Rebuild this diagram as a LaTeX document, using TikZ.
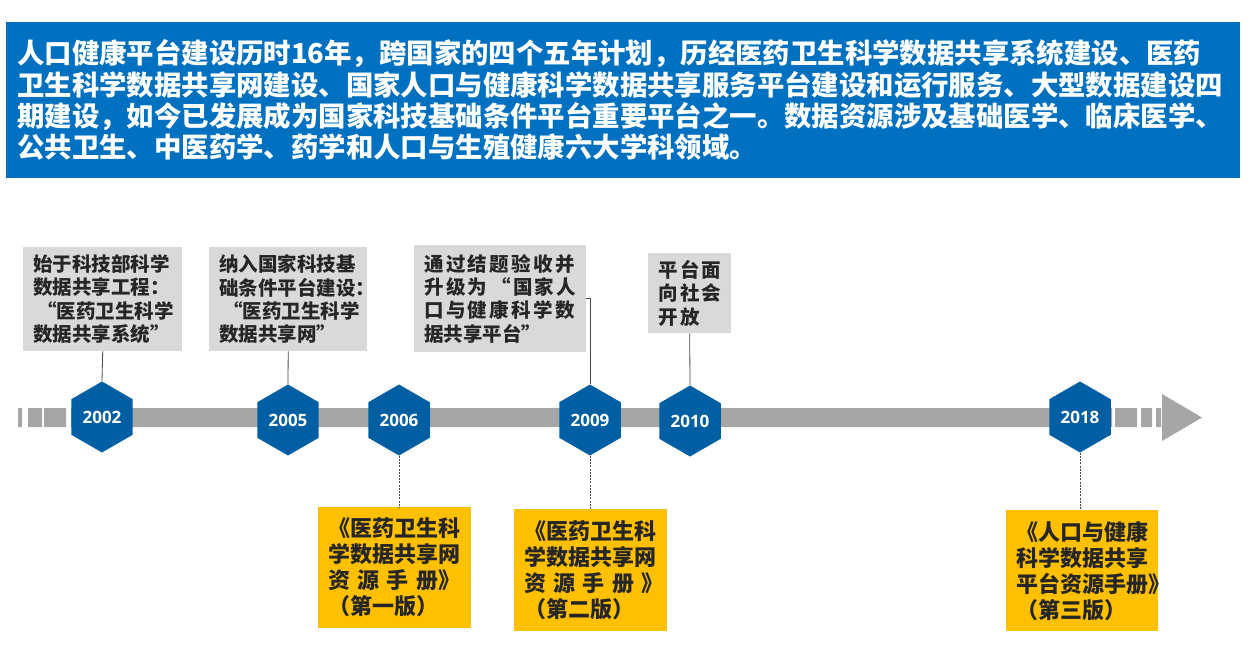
\documentclass[tikz,border=0pt]{standalone}
\usepackage{fontspec}
\setmainfont{Noto Sans CJK SC}
\newfontfamily\spaced{Noto Sans CJK SC}[LetterSpace=12]
\newfontfamily\digits{Open Sans}
\newcommand\openq{\hspace*{0.2em}“}
\usetikzlibrary{shapes.geometric}
\definecolor{headblue}{HTML}{0070C0}
\definecolor{hexblue}{HTML}{005EA2}
\definecolor{boxgray}{HTML}{D9D9D9}
\definecolor{bookyellow}{HTML}{FFC000}
\definecolor{bargray}{HTML}{A6A6A6}
\definecolor{ink}{HTML}{262626}

\begin{document}
\begin{tikzpicture}[x=1pt,y=-1pt,
  year/.style={regular polygon, regular polygon sides=6, shape border rotate=30,
    minimum size=71pt, inner sep=0pt, fill=hexblue, text=white,
    font=\digits\bfseries\fontsize{17}{17}\selectfont},
  event/.style={fill=boxgray, text=ink, anchor=north west, inner xsep=10pt, inner ysep=0pt,
    align=left, font=\bfseries\fontsize{19.5}{23.3}\selectfont},
  book/.style={fill=bookyellow, text=ink, anchor=north west, inner xsep=10pt, inner ysep=0pt,
    align=left, font=\bfseries\fontsize{22}{26}\selectfont},
  tick/.style={draw=ink!85, line width=0.8pt},
  dots/.style={draw=ink!85, line width=0.8pt, dash pattern=on 2pt off 1.2pt}]
  \useasboundingbox (0,0) rectangle (1260,645);

  \node[fill=headblue, text=white, anchor=north west, inner xsep=11pt, inner ysep=0pt,
    text width=1212pt, minimum height=156pt, align=left,
    font=\bfseries\fontsize{27.4}{31.3}\selectfont] (intro) at (6,22)
  {人口健康平台建设历时16年，跨国家的四个五年计划，历经医药卫生科学数据共享系统建设、医药\\
   卫生科学数据共享网建设、国家人口与健康科学数据共享服务平台建设和运行服务、大型数据建设四\\
   期建设，如今已发展成为国家科技基础条件平台重要平台之一。数据资源涉及基础医学、临床医学、\\
   公共卫生、中医药学、药学和人口与生殖健康六大学科领域。};

  % time axis
  \fill[bargray] (18,408) rectangle (22,427) (28,408) rectangle (42,427)
    (44,408) rectangle (66,427) (71,408) rectangle (1112,427)
    (1115,408) rectangle (1137,427) (1141,408) rectangle (1152,427)
    (1156,408) rectangle (1161,427) (1162,394) -- (1202,417.5) -- (1162,441) -- cycle;

  \node[year] (y2002) at (102,417) {2002};
  \node[year] (y2005) at (288,420) {2005};
  \node[year] (y2006) at (399,420) {2006};
  \node[year] (y2009) at (590,420) {2009};
  \node[year] (y2010) at (690,421) {2010};
  \node[year] (y2018) at (1080,417) {2018};

  \node[event, text width=139pt, minimum height=104pt] (ev1) at (23,247)
    {始于科技部科学\\数据共享工程：\\\openq 医药卫生科学\\数据共享系统”};
  \node[event, text width=138pt, minimum height=104pt] (ev2) at (209,247)
    {纳入国家科技基\\础条件平台建设：\\\openq 医药卫生科学\\数据共享网”};
  \node[event, text width=152pt, minimum height=107pt] (ev3) at (414,245)
    {{\spaced 通过结题验收并\\升级为\openq 国家人\\口与健康科学数\\}据共享平台”};
  \node[event, text width=63pt, minimum height=80pt] (ev4) at (648,253)
    {\spaced 平台面\\向社会\\开放};

  \node[book, text width=133pt, minimum height=121pt] (bk1) at (318,507)
    {《医药卫生科\\学数据共享网\\资~源~手~册》\\（第一版）};
  \node[book, text width=133pt, minimum height=122pt] (bk2) at (514,509)
    {《医药卫生科\\学数据共享网\\资~源~手~册~》\\（第二版）};
  \node[book, text width=132pt, minimum height=121pt] (bk3) at (1006,510)
    {《人口与健康\\科学数据共享\\平台资源手册》\\（第三版）};

  \coordinate (bend) at (591,298);
  \path[tick]
  (ev1.south) edge (y2002.north)
  (ev2.south) edge (y2005.north)
  (ev4.south) edge (y2010.north);
  \draw[tick] (ev3.east |- bend) -| (y2009.north);
  \path[dots]
  (y2006.south) edge (y2006.south |- bk1.north)
  (y2009.south) edge (y2009.south |- bk2.north)
  (y2018.south) edge (y2018.south |- bk3.north);
\end{tikzpicture}
\end{document}
